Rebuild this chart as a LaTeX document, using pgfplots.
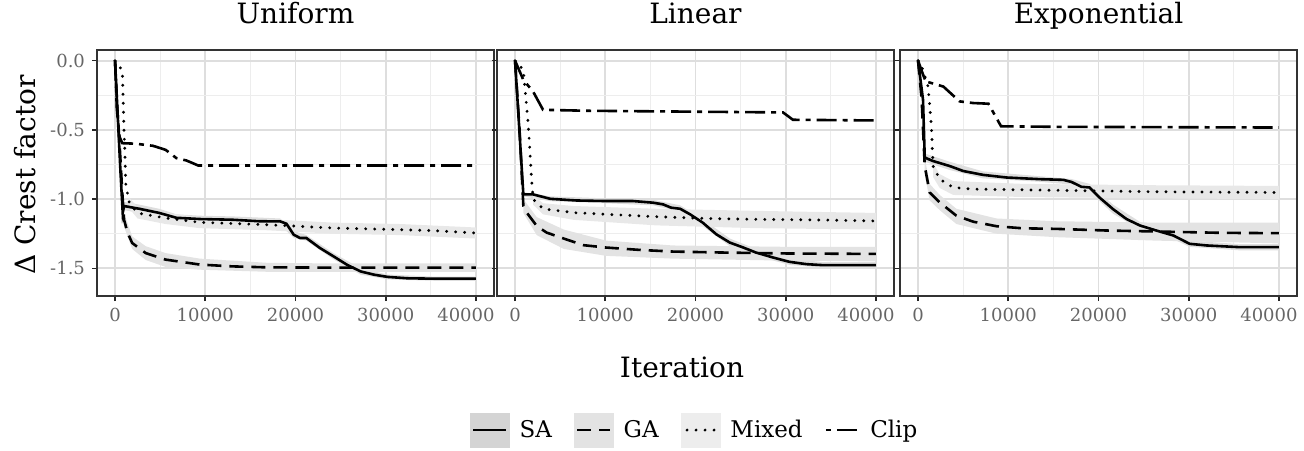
\documentclass[border=0pt]{standalone}
\usepackage{fontspec}
\setmainfont{DejaVu Serif}
\usepackage{pgfplots}
\pgfplotsset{compat=1.18}

\tikzset{
  sa/.style={black, line width=1.3pt, solid},
  ga/.style={black, line width=1.3pt, dash pattern=on 7pt off 4pt},
  mx/.style={black, line width=1.6pt, line cap=round, dash pattern=on 0pt off 4.5pt},
  cl/.style={black, line width=1.3pt, dash pattern=on 10pt off 3pt on 2.5pt off 3pt},
}
\pgfplotsset{
  rib/.style={draw=none, fill=black!11, forget plot},
  panel/.style={
    scale only axis, width=198.5pt, height=123pt, anchor=south west,
    xmin=-2000, xmax=42000, ymin=-1.70, ymax=0.077,
    scaled x ticks=false,
    xtick={0,10000,20000,30000,40000},
    xticklabels={0,10000,20000,30000,\hspace*{-10pt}40000},
    minor xtick={5000,15000,25000,35000},
    ytick={-1.5,-1,-0.5,0},
    minor ytick={-1.25,-0.75,-0.25},
    yticklabels={},
    grid=both,
    major grid style={black!13, line width=0.9pt},
    minor grid style={black!7, line width=0.5pt},
    minor tick length=0pt,
    major tick length=2.5pt,
    tick pos=left, tick align=outside,
    major tick style={black!85, line width=0.8pt},
    axis line style={black!80, line width=1.3pt},
    ticklabel style={font=\fontsize{9}{10}\selectfont, text=black!60},
    /pgf/number format/assume math mode=true,
    title style={at={(0.5,1)}, anchor=base, yshift=7.5pt, font=\fontsize{14}{17}\selectfont},
  },
}

\begin{document}
\begin{tikzpicture}
\useasboundingbox (0,0) rectangle (652pt,225pt);

% ---------------- Uniform ----------------
\begin{axis}[panel, at={(48.5pt,77pt)}, title={Uniform},
  yticklabels={-1.5,-1.0,-0.5,0.0}]
\addplot[rib, fill=black!13] coordinates {
  (1000,-1.02) (2700,-1.04) (4900,-1.07) (6800,-1.11) (9400,-1.12) (13000,-1.125)
  (18300,-1.14) (19800,-1.23) (21200,-1.26) (24200,-1.39) (27200,-1.50) (30200,-1.545)
  (35400,-1.56) (40000,-1.56)
  (40000,-1.59) (35400,-1.59) (30200,-1.58) (27200,-1.545) (24200,-1.435) (21200,-1.30)
  (19800,-1.28) (18300,-1.185) (13000,-1.17) (9400,-1.165) (6800,-1.16) (4900,-1.13)
  (2700,-1.10) (1000,-1.08)};
\addplot[rib] coordinates {
  (1000,-1.10) (1900,-1.27) (3400,-1.34) (5600,-1.39) (9400,-1.43) (16800,-1.46)
  (24200,-1.465) (40000,-1.465)
  (40000,-1.525) (24200,-1.525) (16800,-1.525) (9400,-1.51) (5600,-1.49) (3400,-1.44)
  (1900,-1.36) (1000,-1.20)};
\addplot[rib, fill=black!9] coordinates {
  (1600,-0.99) (2500,-1.06) (5600,-1.10) (9400,-1.13) (16800,-1.145) (24200,-1.17)
  (31600,-1.18) (40000,-1.205)
  (40000,-1.285) (31600,-1.26) (24200,-1.25) (16800,-1.225) (9400,-1.21) (5600,-1.18)
  (2500,-1.14) (1600,-1.07)};
% Clip
\addplot[cl, forget plot] coordinates {
  (0,0) (200,-0.35) (500,-0.55) (800,-0.596) (2300,-0.60) (4200,-0.615) (5600,-0.644)
  (6800,-0.704) (7900,-0.721) (8600,-0.74) (9200,-0.757) (40000,-0.757)};
% Mixed
\addplot[mx, forget plot] coordinates {
  (0,0) (800,-0.07) (1000,-0.50) (1200,-0.90) (1600,-1.03) (2500,-1.10) (5600,-1.137)
  (9400,-1.168) (16800,-1.185) (24200,-1.209) (31600,-1.221) (35400,-1.228) (40000,-1.245)};
% GA
\addplot[ga, forget plot] coordinates {
  (0,0) (250,-0.35) (500,-0.60) (800,-0.95) (1000,-1.15) (1400,-1.245) (1900,-1.317)
  (3400,-1.39) (5600,-1.437) (9400,-1.473) (13000,-1.486) (16800,-1.493) (24200,-1.495)
  (40000,-1.495)};
% SA
\addplot[sa, forget plot] coordinates {
  (0,0) (300,-0.40) (600,-0.80) (850,-1.10) (1000,-1.05) (2700,-1.07) (4900,-1.10)
  (6800,-1.135) (9400,-1.144) (13000,-1.149) (16000,-1.16) (18300,-1.161) (19000,-1.178)
  (19800,-1.257) (20500,-1.281) (21200,-1.281) (22700,-1.353) (24200,-1.413) (25700,-1.474)
  (27200,-1.522) (28700,-1.546) (30200,-1.562) (32400,-1.572) (35400,-1.575) (40000,-1.575)};
\end{axis}

% ---------------- Linear ----------------
\begin{axis}[panel, at={(248.5pt,77pt)}, title={Linear},
  legend style={at={(0.5,-0.545)}, anchor=center, draw=none, fill=none,
    font=\fontsize{11.5}{14}\selectfont, legend columns=4,
    /tikz/every odd column/.append style={column sep=3pt},
    /tikz/every even column/.append style={column sep=9pt}},
  legend cell align=left]
\addlegendimage{legend image code/.code={
  \fill[black!17] (0pt,-8.5pt) rectangle (19.5pt,8.5pt);
  \draw[sa] (1.5pt,0pt) -- (18pt,0pt);}}
\addlegendentry{SA}
\addlegendimage{legend image code/.code={
  \fill[black!11] (0pt,-8.5pt) rectangle (19.5pt,8.5pt);
  \draw[ga] (1.5pt,0pt) -- (18pt,0pt);}}
\addlegendentry{GA}
\addlegendimage{legend image code/.code={
  \fill[black!7] (0pt,-8.5pt) rectangle (19.5pt,8.5pt);
  \draw[mx] (3pt,0pt) -- (18pt,0pt);}}
\addlegendentry{Mixed}
\addlegendimage{legend image code/.code={
  \draw[cl, dash phase=13pt] (1.5pt,0pt) -- (18pt,0pt);}}
\addlegendentry{Clip}
\addplot[rib, fill=black!13] coordinates {
  (920,-0.95) (3900,-0.98) (10100,-0.995) (15300,-1.005) (18300,-1.045) (20800,-1.145)
  (23800,-1.285) (26700,-1.36) (30400,-1.43) (34100,-1.455) (40000,-1.455)
  (40000,-1.495) (34100,-1.495) (30400,-1.475) (26700,-1.41) (23800,-1.34) (20800,-1.195)
  (18300,-1.09) (15300,-1.045) (10100,-1.03) (3900,-1.015) (920,-0.98)};
\addplot[rib] coordinates {
  (920,-1.00) (2400,-1.13) (5400,-1.22) (10100,-1.30) (17500,-1.335) (30400,-1.345)
  (40000,-1.345)
  (40000,-1.45) (30400,-1.445) (17500,-1.43) (10100,-1.41) (5400,-1.36) (2400,-1.26)
  (920,-1.10)};
\addplot[rib, fill=black!9] coordinates {
  (2000,-0.97) (3100,-1.03) (6500,-1.05) (15700,-1.07) (26700,-1.085) (40000,-1.10)
  (40000,-1.22) (26700,-1.21) (15700,-1.19) (6500,-1.15) (3100,-1.11) (2000,-1.04)};
\addplot[cl, forget plot] coordinates {
  (0,0) (920,-0.139) (2000,-0.223) (3100,-0.355) (8000,-0.362) (29700,-0.374)
  (30800,-0.427) (40000,-0.432)};
\addplot[mx, forget plot] coordinates {
  (0,0) (920,-0.067) (1480,-0.475) (1840,-0.87) (2000,-1.0) (3100,-1.07) (6500,-1.098)
  (10100,-1.11) (15700,-1.127) (21200,-1.14) (26700,-1.146) (34100,-1.151) (40000,-1.158)};
\addplot[ga, forget plot] coordinates {
  (0,0) (500,-0.5) (920,-1.05) (1300,-1.098) (2400,-1.194) (3500,-1.242) (5400,-1.285)
  (7600,-1.333) (10100,-1.35) (13800,-1.367) (17500,-1.379) (23000,-1.386) (30400,-1.393)
  (40000,-1.396)};
\addplot[sa, forget plot] coordinates {
  (0,0) (920,-0.966) (2000,-0.966) (3900,-0.998) (6800,-1.01) (10100,-1.014) (13100,-1.014)
  (15300,-1.026) (16400,-1.038) (17300,-1.062) (18300,-1.07) (19400,-1.11) (20800,-1.17)
  (22300,-1.254) (23800,-1.314) (25300,-1.35) (26700,-1.386) (28600,-1.422) (30400,-1.453)
  (32300,-1.47) (34100,-1.477) (40000,-1.477)};
\end{axis}

% ---------------- Exponential ----------------
\begin{axis}[panel, at={(450pt,77pt)}, title={Exponential}]
\addplot[rib, fill=black!13] coordinates {
  (740,-0.67) (3500,-0.73) (7200,-0.80) (13500,-0.835) (17000,-0.855) (19000,-0.89)
  (21600,-1.04) (24600,-1.165) (28300,-1.24) (30100,-1.30) (35600,-1.325) (40000,-1.325)
  (40000,-1.37) (35600,-1.37) (30100,-1.345) (28300,-1.29) (24600,-1.22) (21600,-1.105)
  (19000,-0.945) (17000,-0.895) (13500,-0.875) (7200,-0.85) (3500,-0.79) (740,-0.73)};
\addplot[rib] coordinates {
  (740,-0.70) (1290,-0.89) (2400,-0.97) (4250,-1.07) (8700,-1.14) (15300,-1.16)
  (26400,-1.17) (40000,-1.17)
  (40000,-1.32) (26400,-1.30) (15300,-1.275) (8700,-1.25) (4250,-1.18) (2400,-1.08)
  (1290,-1.01) (740,-0.82)};
\addplot[rib, fill=black!9] coordinates {
  (1660,-0.74) (2400,-0.82) (3900,-0.87) (11600,-0.89) (26400,-0.90) (40000,-0.905)
  (40000,-1.0) (26400,-0.995) (11600,-0.985) (3900,-0.97) (2400,-0.92) (1660,-0.84)};
\addplot[cl, forget plot] coordinates {
  (0,0) (550,-0.10) (920,-0.163) (1290,-0.158) (2800,-0.187) (4600,-0.294) (6100,-0.306)
  (7800,-0.311) (9200,-0.474) (15300,-0.478) (40000,-0.483)};
\addplot[mx, forget plot] coordinates {
  (0,0) (550,-0.067) (1110,-0.187) (1480,-0.474) (1660,-0.761) (2400,-0.856) (3900,-0.916)
  (6100,-0.928) (11600,-0.933) (19000,-0.94) (26400,-0.947) (33800,-0.95) (40000,-0.952)};
\addplot[ga, forget plot] coordinates {
  (0,0) (400,-0.28) (740,-0.761) (1290,-0.952) (2400,-1.024) (4250,-1.12) (6100,-1.163)
  (8700,-1.196) (11600,-1.211) (15300,-1.215) (20900,-1.227) (26400,-1.234) (33800,-1.244)
  (40000,-1.246)};
\addplot[sa, forget plot] coordinates {
  (0,0) (550,-0.282) (740,-0.70) (1660,-0.725) (3500,-0.761) (5000,-0.797) (7200,-0.825)
  (9800,-0.844) (13500,-0.856) (16100,-0.861) (17000,-0.876) (18100,-0.911) (19000,-0.916)
  (20100,-0.988) (21600,-1.072) (23100,-1.144) (24600,-1.191) (26400,-1.227) (28300,-1.263)
  (30100,-1.323) (32000,-1.335) (35600,-1.347) (40000,-1.347)};
\end{axis}

\node[rotate=90, font=\fontsize{14}{17}\selectfont] at (12.5pt,137.5pt) {Δ Crest factor};
\node[font=\fontsize{14}{17}\selectfont] at (341pt,41.5pt) {Iteration};
\end{tikzpicture}
\end{document}
